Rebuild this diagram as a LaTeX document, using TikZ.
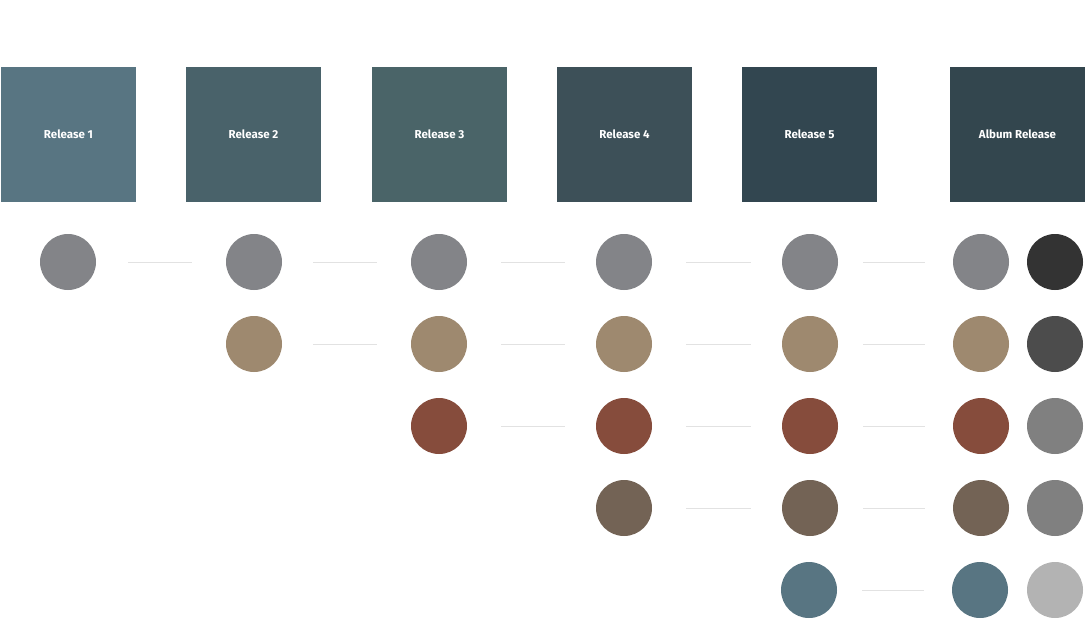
\documentclass[tikz,border=0pt]{standalone}
\usepackage{fontspec}
\setmainfont{Fira Sans}
\definecolor{rA}{HTML}{587582}
\definecolor{rB}{HTML}{49626A}
\definecolor{rC}{HTML}{4A6468}
\definecolor{rD}{HTML}{3D5058}
\definecolor{rE}{HTML}{324650}
\definecolor{rF}{HTML}{33464E}
\definecolor{cGrey}{HTML}{838488}
\definecolor{cTan}{HTML}{9E896F}
\definecolor{cRust}{HTML}{864C3C}
\definecolor{cBrown}{HTML}{736355}
\definecolor{cBlue}{HTML}{587582}
\definecolor{gA}{HTML}{333333}
\definecolor{gB}{HTML}{4C4C4C}
\definecolor{gC}{HTML}{808080}
\definecolor{gD}{HTML}{B3B3B3}
\definecolor{linkc}{HTML}{E2E2E2}
\tikzset{
  relbox/.style={fill=#1, draw=none, minimum width=135pt, minimum height=135pt, inner sep=0pt,
    text=white, font=\fontsize{11.5}{13}\selectfont\bfseries},
  dot/.style={circle, fill=#1, draw=none, minimum size=56pt, inner sep=0pt},
  link/.style={draw=linkc, line width=0.8pt},
}
\begin{document}
\begin{tikzpicture}[x=1pt,y=-1pt]
\useasboundingbox (0,0) rectangle (1086,635);
% release boxes
\node[relbox=rA] (r1) at (68.5,134.5) {Release 1};
\node[relbox=rB] (r2) at (253.5,134.5) {Release 2};
\node[relbox=rC] (r3) at (439.5,134.5) {Release 3};
\node[relbox=rD] (r4) at (624.5,134.5) {Release 4};
\node[relbox=rE] (r5) at (809.5,134.5) {Release 5};
\node[relbox=rF] (r6) at (1017.5,134.5) {Album Release};
% column 1
\node[dot=cGrey] (a1) at (68,262) {};
% column 2
\node[dot=cGrey] (b1) at (254,262) {};
\node[dot=cTan] (b2) at (254,344) {};
% column 3
\node[dot=cGrey] (c1) at (439,262) {};
\node[dot=cTan] (c2) at (439,344) {};
\node[dot=cRust] (c3) at (439,426) {};
% column 4
\node[dot=cGrey] (d1) at (624,262) {};
\node[dot=cTan] (d2) at (624,344) {};
\node[dot=cRust] (d3) at (624,426) {};
\node[dot=cBrown] (d4) at (624,508) {};
% column 5
\node[dot=cGrey] (e1) at (810,262) {};
\node[dot=cTan] (e2) at (810,344) {};
\node[dot=cRust] (e3) at (810,426) {};
\node[dot=cBrown] (e4) at (810,508) {};
\node[dot=cBlue] (e5) at (809,590) {};
% album column
\node[dot=cGrey] (f1) at (981,262) {};
\node[dot=cTan] (f2) at (981,344) {};
\node[dot=cRust] (f3) at (981,426) {};
\node[dot=cBrown] (f4) at (981,508) {};
\node[dot=cBlue] (f5) at (980,590) {};
% album right column
\node[dot=gA] (g1) at (1055,262) {};
\node[dot=gB] (g2) at (1055,344) {};
\node[dot=gC] (g3) at (1055,426) {};
\node[dot=gC] (g4) at (1055,508) {};
\node[dot=gD] (g5) at (1055,590) {};
% links
\draw[link, shorten <=32pt, shorten >=34pt] (a1) -- (b1);
\draw[link, shorten <=31pt, shorten >=34pt] (b1) -- (c1);
\draw[link, shorten <=31pt, shorten >=34pt] (b2) -- (c2);
\foreach \p/\q in {c1/d1,c2/d2,c3/d3}
  \draw[link, shorten <=34pt, shorten >=31pt] (\p) -- (\q);
\foreach \p/\q in {d1/e1,d2/e2,d3/e3,d4/e4}
  \draw[link, shorten <=34pt, shorten >=31pt] (\p) -- (\q);
\foreach \p/\q in {e1/f1,e2/f2,e3/f3,e4/f4,e5/f5}
  \draw[link, shorten <=25pt, shorten >=28pt] (\p) -- (\q);
\end{tikzpicture}
\end{document}
